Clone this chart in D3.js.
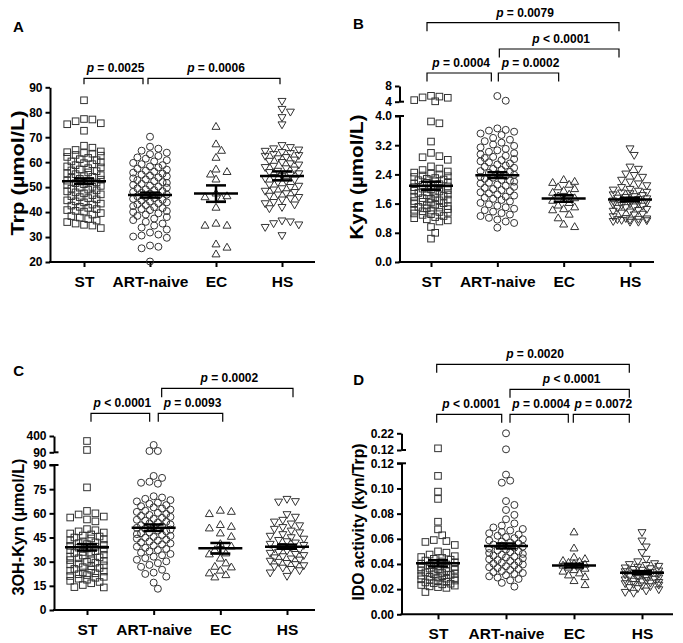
<!DOCTYPE html>
<html><head><meta charset="utf-8">
<script src="https://cdn.jsdelivr.net/npm/d3@7"></script>
<style>
body{margin:0;background:#fff}
svg{display:block}
text{font-family:"Liberation Sans",Arial,sans-serif;font-weight:bold;fill:#000}
</style>
</head><body>
<svg id="chart" width="683" height="643"></svg>
<script>
// ---------------- DATA ----------------
const categories = ["ST", "ART-naive", "EC", "HS"];

// Panel A: Trp (µmol/L)
const trpST = [84.8, 77.3, 77.1, 76.4, 75.6, 75.2, 72.6, 66.6, 65.8, 64.9, 64.3, 64.0, 63.7, 63.4, 62.9, 62.6, 62.1, 61.7, 61.2, 60.8, 60.3, 59.9, 59.6, 59.2, 58.8, 58.3, 57.9, 57.6, 57.1, 56.7, 56.4, 55.9, 55.5, 55.2, 54.8, 54.4, 54.1, 53.7, 53.3, 53.0, 52.6, 52.3, 51.9, 51.6, 51.2, 50.9, 50.5, 50.1, 49.8, 49.4, 49.0, 48.7, 48.3, 47.9, 47.5, 47.1, 46.8, 46.4, 46.0, 45.6, 45.1, 44.7, 44.3, 43.9, 43.4, 43.0, 42.6, 42.1, 41.7, 41.2, 40.8, 40.5, 40.2, 39.6, 39.0, 38.4, 37.8, 37.2, 36.6, 36.0, 35.4, 34.9, 34.6, 33.6];
const trpART = [70.2, 66.2, 65.4, 64.6, 63.8, 63.2, 62.5, 61.9, 61.4, 60.8, 60.3, 59.7, 59.2, 58.8, 58.3, 57.9, 57.4, 57.0, 56.6, 56.2, 55.8, 55.4, 55.0, 54.6, 54.3, 53.9, 53.5, 53.1, 52.8, 52.4, 52.0, 51.7, 51.3, 50.9, 50.6, 50.2, 49.8, 49.5, 49.1, 48.8, 48.4, 48.1, 47.7, 47.4, 47.0, 46.7, 46.3, 46.0, 45.6, 45.3, 44.9, 44.6, 44.2, 43.9, 43.5, 43.1, 42.8, 42.4, 42.0, 41.6, 41.2, 40.8, 40.4, 40.0, 39.5, 39.0, 38.5, 38.0, 37.4, 36.8, 36.1, 35.4, 34.6, 33.8, 33.0, 31.8, 31.0, 30.6, 30.2, 29.7, 26.6, 26.1, 25.5, 20.2];
const trpEC = [74.2, 67.2, 64.6, 61.8, 57.1, 56.1, 55.1, 53.1, 47.5, 46.4, 46.0, 45.5, 41.8, 35.4, 34.6, 34.6, 27.1, 25.8, 23.1];
const trpHS = [84.5, 81.3, 80.2, 78.0, 75.1, 66.8, 66.0, 65.5, 65.0, 64.5, 64.0, 63.6, 63.2, 62.8, 62.5, 62.0, 61.5, 61.0, 60.5, 60.0, 59.5, 59.0, 58.5, 58.0, 57.5, 57.0, 56.5, 56.0, 55.5, 55.0, 54.5, 54.0, 53.5, 53.0, 52.5, 52.0, 51.0, 50.5, 50.0, 49.5, 49.0, 48.5, 48.0, 47.5, 47.0, 46.5, 46.0, 45.5, 45.0, 44.0, 43.5, 43.0, 42.0, 41.5, 36.6, 36.2, 35.5, 35.0, 34.0, 30.7];
const trpMean = [52.4, 46.8, 47.4, 54.5];
const trpSem = [1.1, 1.0, 3.3, 1.8];
const trpTicks = [20, 30, 40, 50, 60, 70, 80, 90];
const trpPvalues = ["= 0.0025", "= 0.0006"];

// Panel B: Kyn (µmol/L)
const kynST = [5.5, 5.3, 5.1, 5.0, 4.4, 4.1, 3.85, 3.80, 3.30, 2.99, 2.90, 2.87, 2.80, 2.62, 2.56, 2.52, 2.48, 2.45, 2.42, 2.40, 2.37, 2.35, 2.33, 2.30, 2.28, 2.26, 2.24, 2.21, 2.19, 2.17, 2.15, 2.13, 2.11, 2.09, 2.07, 2.05, 2.03, 2.01, 1.99, 1.97, 1.95, 1.93, 1.91, 1.89, 1.87, 1.85, 1.83, 1.81, 1.79, 1.77, 1.75, 1.73, 1.71, 1.69, 1.67, 1.65, 1.63, 1.61, 1.59, 1.57, 1.55, 1.53, 1.51, 1.49, 1.47, 1.45, 1.43, 1.41, 1.39, 1.37, 1.35, 1.33, 1.31, 1.29, 1.26, 1.23, 1.20, 1.17, 1.14, 1.11, 0.96, 0.80, 0.64];
const kynART = [5.45, 4.25, 3.66, 3.62, 3.60, 3.57, 3.52, 3.48, 3.40, 3.35, 3.31, 3.27, 3.22, 3.18, 3.14, 3.10, 3.06, 3.02, 2.98, 2.95, 2.91, 2.88, 2.85, 2.82, 2.79, 2.76, 2.73, 2.70, 2.67, 2.64, 2.61, 2.58, 2.55, 2.52, 2.49, 2.47, 2.44, 2.41, 2.39, 2.36, 2.33, 2.31, 2.28, 2.25, 2.23, 2.20, 2.17, 2.15, 2.12, 2.09, 2.06, 2.03, 2.00, 1.97, 1.94, 1.91, 1.88, 1.85, 1.82, 1.79, 1.76, 1.73, 1.70, 1.66, 1.62, 1.58, 1.54, 1.50, 1.46, 1.42, 1.38, 1.34, 1.30, 1.26, 1.21, 1.16, 1.11, 1.07, 0.94];
const kynEC = [2.25, 2.20, 2.17, 2.12, 2.05, 2.00, 1.95, 1.90, 1.85, 1.80, 1.75, 1.70, 1.68, 1.62, 1.55, 1.50, 1.45, 1.42, 1.30, 1.20, 1.03, 0.96];
const kynHS = [3.11, 2.93, 2.61, 2.55, 2.42, 2.38, 2.33, 2.25, 2.20, 2.15, 2.10, 2.05, 2.00, 1.98, 1.95, 1.92, 1.90, 1.88, 1.85, 1.83, 1.80, 1.78, 1.76, 1.74, 1.72, 1.70, 1.68, 1.66, 1.64, 1.62, 1.60, 1.58, 1.56, 1.54, 1.52, 1.50, 1.48, 1.45, 1.42, 1.40, 1.38, 1.35, 1.32, 1.30, 1.25, 1.20, 1.19, 1.18, 1.17, 1.16, 1.15, 1.14, 1.12, 1.10, 1.10];
const kynMean = [2.09, 2.38, 1.74, 1.71];
const kynSem = [0.11, 0.08, 0.09, 0.05];
const kynTicks = [0.0, 0.8, 1.6, 2.4, 3.2, 4.0];
const kynBreakTicks = [4, 8];
const kynPvalues = ["= 0.0079", "< 0.0001", "= 0.0004", "= 0.0002"];

// Panel C: 3OH-Kyn (µmol/L)
const ohkST = [305, 134, 76.1, 61.5, 60.0, 59.3, 58.0, 57.4, 56.2, 55.0, 50.2, 49.5, 48.8, 48.1, 47.5, 46.9, 46.2, 45.6, 45.0, 44.4, 43.8, 43.2, 42.6, 42.0, 41.5, 40.9, 40.4, 39.8, 39.3, 38.7, 38.2, 37.6, 37.1, 36.5, 36.0, 35.4, 34.9, 34.3, 33.8, 33.2, 32.7, 32.1, 31.6, 31.0, 30.5, 29.9, 29.4, 28.8, 28.3, 27.7, 27.2, 26.6, 26.1, 25.5, 25.0, 24.4, 23.9, 23.3, 22.8, 22.2, 21.7, 21.1, 20.6, 20.0, 19.4, 18.8, 18.1, 17.4, 16.6, 15.5, 14.2, 14.0];
const ohkART = [229, 115, 115, 83.2, 82.0, 79.6, 79.0, 78.4, 70.6, 69.8, 69.0, 68.2, 67.4, 66.6, 65.9, 65.1, 64.4, 63.7, 63.0, 62.3, 61.6, 60.9, 60.3, 59.6, 59.0, 58.4, 57.8, 57.2, 56.6, 56.0, 55.4, 54.8, 54.3, 53.7, 53.1, 52.6, 52.0, 51.5, 51.0, 50.4, 49.9, 49.3, 48.8, 48.2, 47.7, 47.1, 46.6, 46.0, 45.4, 44.9, 44.3, 43.7, 43.1, 42.5, 41.9, 41.3, 40.7, 40.0, 39.3, 38.6, 37.9, 37.2, 36.4, 35.6, 34.8, 34.0, 33.1, 32.2, 31.2, 30.2, 29.1, 28.0, 26.8, 25.0, 23.2, 22.4, 20.7, 17.0, 13.2];
const ohkEC = [61.7, 61.0, 59.6, 52.8, 51.7, 50.7, 47.6, 45.5, 41.0, 39.5, 37.2, 35.2, 34.6, 32.0, 29.0, 26.9, 26.5, 24.5, 22.8, 21.7, 20.3];
const ohkHS = [68.9, 67.5, 67.2, 59.4, 57.8, 55.9, 54.8, 53.6, 52.5, 51.4, 50.3, 49.2, 48.1, 47.0, 46.0, 45.1, 44.2, 43.4, 42.6, 41.8, 41.0, 40.3, 39.6, 38.9, 38.2, 37.5, 36.8, 36.1, 35.4, 34.7, 34.0, 33.3, 32.6, 31.9, 31.2, 30.5, 29.8, 29.1, 28.4, 27.7, 27.0, 26.2, 25.4, 24.6, 23.2, 21.1];
const ohkMean = [38.9, 51.1, 38.3, 39.3];
const ohkSem = [2.0, 2.0, 3.3, 1.3];
const ohkTicks = [0, 15, 30, 45, 60, 75, 90];
const ohkBreakTicks = [90, 400];
const ohkPvalues = ["= 0.0002", "< 0.0001", "= 0.0093"];

// Panel D: IDO activity (kyn/Trp)
const idoST = [0.13, 0.110, 0.0975, 0.0917, 0.0736, 0.0675, 0.0628, 0.0590, 0.0582, 0.0575, 0.0551, 0.0500, 0.0490, 0.0475, 0.0462, 0.0455, 0.0448, 0.0441, 0.0434, 0.0427, 0.0420, 0.0414, 0.0408, 0.0402, 0.0396, 0.0390, 0.0384, 0.0378, 0.0373, 0.0368, 0.0363, 0.0358, 0.0353, 0.0348, 0.0343, 0.0338, 0.0333, 0.0328, 0.0323, 0.0318, 0.0313, 0.0308, 0.0303, 0.0298, 0.0293, 0.0288, 0.0283, 0.0278, 0.0273, 0.0268, 0.0263, 0.0258, 0.0253, 0.0248, 0.0243, 0.0238, 0.0233, 0.0228, 0.0222, 0.0216, 0.0210, 0.0177];
const idoART = [0.22, 0.124, 0.111, 0.1062, 0.1046, 0.0900, 0.0869, 0.0829, 0.0790, 0.0755, 0.0722, 0.0705, 0.0690, 0.0678, 0.0666, 0.0655, 0.0644, 0.0634, 0.0624, 0.0614, 0.0605, 0.0596, 0.0587, 0.0578, 0.0570, 0.0562, 0.0554, 0.0546, 0.0538, 0.0530, 0.0522, 0.0515, 0.0508, 0.0501, 0.0494, 0.0487, 0.0480, 0.0473, 0.0466, 0.0459, 0.0452, 0.0445, 0.0438, 0.0431, 0.0424, 0.0417, 0.0410, 0.0403, 0.0396, 0.0389, 0.0382, 0.0375, 0.0368, 0.0360, 0.0352, 0.0344, 0.0336, 0.0328, 0.0320, 0.0311, 0.0302, 0.0292, 0.0281, 0.0270, 0.0250, 0.0220];
const idoEC = [0.0652, 0.0524, 0.0452, 0.0440, 0.0425, 0.0418, 0.0410, 0.0402, 0.0395, 0.0388, 0.0380, 0.0372, 0.0363, 0.0352, 0.0340, 0.0326, 0.0310, 0.0296, 0.0265, 0.0233];
const idoHS = [0.0652, 0.0585, 0.0538, 0.0493, 0.0440, 0.0420, 0.0405, 0.0398, 0.0391, 0.0384, 0.0377, 0.0371, 0.0365, 0.0359, 0.0353, 0.0347, 0.0341, 0.0336, 0.0331, 0.0326, 0.0321, 0.0316, 0.0311, 0.0306, 0.0301, 0.0296, 0.0291, 0.0286, 0.0281, 0.0276, 0.0271, 0.0266, 0.0261, 0.0256, 0.0251, 0.0246, 0.0240, 0.0234, 0.0228, 0.0222, 0.0215, 0.0207, 0.0198, 0.0188, 0.0177, 0.0170];
const idoMean = [0.0405, 0.0543, 0.0387, 0.0331];
const idoSem = [0.0025, 0.0020, 0.0015, 0.0012];
const idoTicks = [0.00, 0.02, 0.04, 0.06, 0.08, 0.10, 0.12];
const idoBreakTicks = [0.12, 0.22];
const idoPvalues = ["= 0.0020", "< 0.0001", "< 0.0001", "= 0.0004", "= 0.0072"];

// ---------------- LAYOUT ----------------
const svg = d3.select("#chart");
const FONT = '"Liberation Sans", Arial, sans-serif';

const panels = [
  { letter: "A", lx: 13, ly: 31.7, title: "Trp (µmol/L)", tx: 18, ty: 173, tsize: 18, tlen: 125,
    groups: [trpST, trpART, trpEC, trpHS], mean: trpMean, sem: trpSem,
    x0: 50, x1: 315, yB: 262, yT: 87.3, domain: [20, 90], ticks: trpTicks, fmt: d3.format("d"),
    cat: [84, 282], spread: [17, 17, 11, 17],
    brackets: [
      { i: 0, j: 1, dl: 0, dr: -7, y: 78.3, h: 6, p: trpPvalues[0] },
      { i: 1, j: 3, dl: -2, dr: -2, y: 78.3, h: 6, p: trpPvalues[1] } ] },
  { letter: "B", lx: 353, ly: 29.3, title: "Kyn (µmol/L)", tx: 357, ty: 177, tsize: 18, tlen: 125,
    groups: [kynST, kynART, kynEC, kynHS], mean: kynMean, sem: kynSem,
    x0: 399.5, x1: 654, yB: 262, yT: 116, domain: [0, 4], ticks: kynTicks, fmt: d3.format(".1f"),
    brk: { domain: [4, 8], range: [101.7, 86], ticks: kynBreakTicks, fmt: d3.format("d") },
    cat: [431, 630], spread: [17, 17, 15, 19],
    brackets: [
      { i: 0, j: 3, dl: -4, dr: -11, y: 22.7, h: 8.5, p: kynPvalues[0] },
      { i: 1, j: 3, dl: 2, dr: -11, y: 49, h: 8.5, p: kynPvalues[1] },
      { i: 0, j: 1, dl: -4, dr: -6, y: 73, h: 8.5, p: kynPvalues[2] },
      { i: 1, j: 2, dl: 1, dr: -5, y: 73, h: 8.5, p: kynPvalues[3] } ] },
  { letter: "C", lx: 13.3, ly: 376, title: "3OH-Kyn (µmol/L)", tx: 18, ty: 527, tsize: 16, tlen: 137,
    groups: [ohkST, ohkART, ohkEC, ohkHS], mean: ohkMean, sem: ohkSem,
    x0: 54, x1: 315, yB: 610, yT: 465, domain: [0, 90], ticks: ohkTicks, fmt: d3.format("d"),
    brk: { domain: [90, 400], range: [452.3, 436], ticks: ohkBreakTicks, fmt: d3.format("d") },
    cat: [87, 287], spread: [17, 17, 11, 17],
    brackets: [
      { i: 1, j: 3, dl: 8, dr: 6, y: 388.3, h: 9, p: ohkPvalues[0] },
      { i: 0, j: 1, dl: 4, dr: -4, y: 413.3, h: 8.5, p: ohkPvalues[1] },
      { i: 1, j: 2, dl: 4.6, dr: 2.4, y: 413.3, h: 8.5, p: ohkPvalues[2] } ] },
  { letter: "D", lx: 353.3, ly: 385, title: "IDO activity (kyn/Trp)", tx: 358, ty: 522, tsize: 16, tlen: 157,
    groups: [idoST, idoART, idoEC, idoHS], mean: idoMean, sem: idoSem,
    x0: 401.5, x1: 673, yB: 614.3, yT: 463.3, domain: [0, 0.12], ticks: idoTicks, fmt: d3.format(".2f"),
    brk: { domain: [0.12, 0.22], range: [450, 433.3], ticks: idoBreakTicks, fmt: d3.format(".2f") },
    cat: [438, 642], spread: [17, 17, 14, 19],
    brackets: [
      { i: 0, j: 3, dl: -1.3, dr: -12.7, y: 364.3, h: 8.5, p: idoPvalues[0] },
      { i: 1, j: 3, dl: 4, dr: -12.7, y: 389.3, h: 8.5, p: idoPvalues[1] },
      { i: 0, j: 1, dl: -1.3, dr: -4.3, y: 414.3, h: 8.5, p: idoPvalues[2] },
      { i: 1, j: 2, dl: 4, dr: -5.7, y: 414.3, h: 8.5, p: idoPvalues[3] },
      { i: 2, j: 3, dl: -0.7, dr: -12.7, y: 414.3, h: 8.5, p: idoPvalues[4] } ] }
];

// marker shape generators (index = category)
const shapes = [
  (g) => g.append("rect").attr("x", -3.3).attr("y", -3.3).attr("width", 6.6).attr("height", 6.6),
  (g) => g.append("circle").attr("r", 3.5),
  (g) => g.append("path").attr("d", "M0,-4.3L4,2.6L-4,2.6Z"),
  (g) => g.append("path").attr("d", "M0,4.3L4,-2.6L-4,-2.6Z")
];

// deterministic beeswarm layout (horizontal offsets only)
function swarm(ys, maxOff, step, d) {
  const pts = ys.map((y, k) => ({ y, k })).sort((a, b) => a.y - b.y);
  const placed = [];
  const K = Math.floor(maxOff / step + 1e-6);
  const cands = [0];
  for (let k = 1; k <= K; k++) { cands.push(k * step, -k * step); }
  for (const p of pts) {
    let best = 0, bestCost = Infinity;
    for (const c of cands) {
      let cost = 0;
      for (const q of placed) {
        const dx = c - q.x, dy = p.y - q.y;
        const dd = dx * dx + dy * dy;
        if (dd < d * d) cost += d - Math.sqrt(dd);
      }
      if (cost === 0) { best = c; bestCost = 0; break; }
      if (cost < bestCost - 1e-9) { bestCost = cost; best = c; }
    }
    p.x = best;
    placed.push(p);
  }
  const out = new Array(ys.length);
  pts.forEach(p => out[p.k] = p.x);
  return out;
}

panels.forEach(P => {
  const g = svg.append("g");
  const x = d3.scalePoint().domain(categories).range(P.cat);
  const y = d3.scaleLinear().domain(P.domain).range([P.yB, P.yT]);
  const yb = P.brk ? d3.scaleLinear().domain(P.brk.domain).range(P.brk.range) : null;
  const Y = v => (yb && v > P.domain[1]) ? yb(v) : y(v);

  // y axis
  const ya = g.append("g").attr("transform", `translate(${P.x0},0)`)
    .call(d3.axisLeft(y).tickValues(P.ticks).tickFormat(P.fmt).tickSize(4.5).tickSizeOuter(0).tickPadding(3));
  ya.select(".domain").attr("stroke-width", 2);
  ya.selectAll(".tick line").attr("stroke-width", 2);
  ya.selectAll("text").attr("font-size", 12).attr("font-family", FONT).attr("font-weight", "bold");
  if (yb) {
    g.append("line").attr("x1", P.x0 - 4.5).attr("x2", P.x0 + 4.5).attr("y1", P.yT).attr("y2", P.yT)
      .attr("stroke", "#000").attr("stroke-width", 2);
    const ba = g.append("g").attr("transform", `translate(${P.x0},0)`)
      .call(d3.axisLeft(yb).tickValues(P.brk.ticks).tickFormat(P.brk.fmt).tickSize(4.5).tickSizeOuter(0).tickPadding(3));
    ba.select(".domain").attr("stroke-width", 2);
    ba.selectAll(".tick line").attr("stroke-width", 2);
    ba.selectAll("text").attr("font-size", 12).attr("font-family", FONT).attr("font-weight", "bold");
    g.append("line").attr("x1", P.x0).attr("x2", P.x0 + 4.5).attr("y1", P.brk.range[0]).attr("y2", P.brk.range[0])
      .attr("stroke", "#000").attr("stroke-width", 2);
  }

  // x axis
  g.append("line").attr("x1", P.x0 - 1).attr("x2", P.x1).attr("y1", P.yB).attr("y2", P.yB)
    .attr("stroke", "#000").attr("stroke-width", 2);
  const xa = g.append("g").attr("transform", `translate(0,${P.yB})`)
    .call(d3.axisBottom(x).tickSize(5).tickSizeOuter(0).tickPadding(8.5));
  xa.select(".domain").remove();
  xa.selectAll(".tick line").attr("stroke-width", 2);
  xa.selectAll("text").attr("font-size", 15.5).attr("font-family", FONT).attr("font-weight", "bold");

  // y title
  g.append("text").attr("transform", `translate(${P.tx},${P.ty}) rotate(-90)`)
    .attr("text-anchor", "middle").attr("dy", "0.35em")
    .attr("font-size", P.tsize).attr("textLength", P.tlen).attr("lengthAdjust", "spacingAndGlyphs")
    .text(P.title);

  // panel letter
  g.append("text").attr("x", P.lx).attr("y", P.ly).attr("font-size", 15).text(P.letter);

  // points
  P.groups.forEach((vals, ci) => {
    const ys = vals.map(Y);
    const sparse = vals.length < 30;
    const offs = swarm(ys, P.spread[ci], sparse ? 5.5 : 4.2, 7);
    const pg = g.append("g").attr("fill", "none").attr("stroke", "#333").attr("stroke-width", 1);
    vals.forEach((v, k) => {
      const m = pg.append("g").attr("transform", `translate(${x(categories[ci]) + offs[k]},${ys[k]})`);
      shapes[ci](m);
    });
  });

  // mean ± SEM
  categories.forEach((c, ci) => {
    const cx = x(c), m = P.mean[ci], s = P.sem[ci];
    const lg = g.append("g").attr("stroke", "#000").attr("stroke-width", 2.5);
    lg.append("line").attr("x1", cx - 22).attr("x2", cx + 22).attr("y1", y(m)).attr("y2", y(m));
    lg.append("line").attr("x1", cx).attr("x2", cx).attr("y1", y(m - s)).attr("y2", y(m + s));
    lg.append("line").attr("x1", cx - 10).attr("x2", cx + 10).attr("y1", y(m - s)).attr("y2", y(m - s));
    lg.append("line").attr("x1", cx - 10).attr("x2", cx + 10).attr("y1", y(m + s)).attr("y2", y(m + s));
  });

  // significance brackets
  P.brackets.forEach(b => {
    const xl = x(categories[b.i]) + b.dl, xr = x(categories[b.j]) + b.dr;
    g.append("path").attr("d", `M${xl},${b.y + b.h}V${b.y}H${xr}V${b.y + b.h}`)
      .attr("fill", "none").attr("stroke", "#000").attr("stroke-width", 1.2);
    const t = g.append("text").attr("x", (xl + xr) / 2 + 2).attr("y", b.y - 6)
      .attr("text-anchor", "middle").attr("font-size", 12);
    t.append("tspan").attr("font-style", "italic").text("p");
    t.append("tspan").text(" " + b.p);
  });
});
</script>
</body></html>
